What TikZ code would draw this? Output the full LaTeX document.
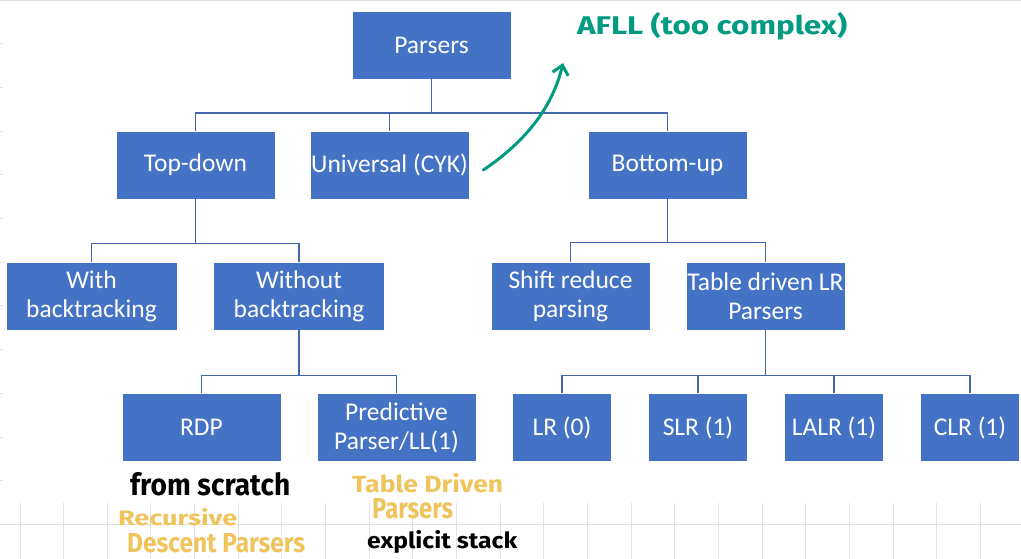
\documentclass[tikz,border=0pt]{standalone}
\usepackage{fontspec}
\setmainfont{Carlito}
\newfontfamily\hand{Fira Sans}
\usetikzlibrary{arrows.meta}
\definecolor{boxblue}{RGB}{68,114,196}
\definecolor{linkblue}{RGB}{68,102,172}
\definecolor{pen}{RGB}{0,155,128}
\definecolor{marker}{RGB}{240,196,92}
\definecolor{gridgray}{RGB}{226,226,226}
\begin{document}
\begin{tikzpicture}[x=1pt,y=-1pt,
  box/.style={rectangle, fill=boxblue, draw=white, line width=0.6pt, text=white,
    minimum width=159pt, minimum height=68pt, inner sep=0pt, align=center,
    font=\fontsize{25.5}{29}\selectfont},
  widebox/.style={box, minimum width=171pt},
  smallbox/.style={box, minimum width=99pt},
  conn/.style={draw=linkblue, line width=1.6pt},
  gridline/.style={draw=gridgray, line width=1pt},
  hw/.style={inner sep=0pt, anchor=base west, font=\hand\bfseries},
  penarrow/.style={draw=pen, line width=3pt, line cap=round,
    -{Straight Barb[length=9pt,width=16pt,line width=3pt]}}]
\useasboundingbox (0,0) rectangle (1021,559);
\fill[white] (0,0) rectangle (1021,559);

% notebook grid
\draw[gridline] (0,0.5) -- (1021,0.5);
\foreach \k in {1,...,11} \draw[gridline] (0,43.7*\k) -- (3,43.7*\k);
\draw[gridline] (0,524) -- (1021,524);
\foreach \k in {0,...,22} \draw[gridline] (20+43.65*\k,503) -- (20+43.65*\k,559);

% boxes
\node[box] (parsers) at (431.5,45) {Parsers};
\node[box] (topdown) at (195.5,165) {Top-down};
\node[box] (universal) at (389.5,165) {Universal (CYK)};
\node[box] (bottomup) at (667.5,165) {Bottom-up};
\node[widebox] (withbt) at (91.5,296) {With\\backtracking};
\node[widebox] (withoutbt) at (299,296) {Without\\backtracking};
\node[box] (shiftreduce) at (570.5,296) {Shift reduce\\parsing};
\node[box] (tabledriven) at (765.5,296) {Table driven LR\\Parsers};
\node[box] (rdp) at (201.5,427.5) {RDP};
\node[box] (predictive) at (396.5,427.5) {Predictive\\Parser/LL(1)};
\node[smallbox] (lr0) at (562,427.5) {LR (0)};
\node[smallbox] (slr1) at (698,427.5) {SLR (1)};
\node[smallbox] (lalr1) at (834,427.5) {LALR (1)};
\node[smallbox] (clr1) at (970,427.5) {CLR (1)};

% connectors
\draw[conn] (parsers.south) -- ++(0,34) coordinate (busA);
\draw[conn] (topdown.north) |- (busA) -| (bottomup.north);
\draw[conn] (universal.north) -- (universal.north |- busA);

\draw[conn] (topdown.south) -- ++(0,44) coordinate (busB);
\draw[conn] (withbt.north) |- (busB) -| (withoutbt.north);

\draw[conn] (bottomup.south) -- ++(0,43) coordinate (busC);
\draw[conn] (shiftreduce.north) |- (busC) -| (tabledriven.north);

\draw[conn] (withoutbt.south) -- ++(0,45) coordinate (busD);
\draw[conn] (rdp.north) |- (busD) -| (predictive.north);

\draw[conn] (tabledriven.south) -- ++(0,45) coordinate (busE);
\draw[conn] (lr0.north) |- (busE) -| (clr1.north);
\draw[conn] (slr1.north) -- (slr1.north |- busE);
\draw[conn] (lalr1.north) -- (lalr1.north |- busE);

% handwritten notes
\node[hw, text=pen] (afll) at (577,35) {\resizebox{270pt}{22pt}{AFLL (too complex)}};
\coordinate (arrstart) at ([xshift=14pt,yshift=-5pt]universal.east);
\coordinate (arrend) at (563,63);
\draw[penarrow] (arrstart) .. controls (528,140) and (553,105) .. (arrend);

\node[hw, text=black] (scratch) at (130,495) {\resizebox{160pt}{23pt}{from scratch}};
\node[hw, text=marker] (recursive) at (118,525) {\resizebox{119pt}{17pt}{Recursive}};
\node[hw, text=marker] (descent) at (127,552) {\resizebox{178pt}{19pt}{Descent Parsers}};
\node[hw, text=marker] (tabled) at (352,492) {\resizebox{151pt}{19pt}{Table Driven}};
\node[hw, text=marker] (tparsers) at (372,518) {\resizebox{81pt}{20pt}{Parsers}};
\node[hw, text=black] (explicit) at (367,548) {\resizebox{150pt}{18pt}{explicit stack}};
\end{tikzpicture}
\end{document}
